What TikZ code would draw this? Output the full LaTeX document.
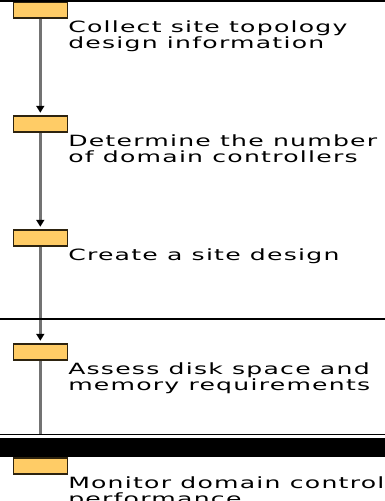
\documentclass[tikz,border=0pt]{standalone}
\usepackage{fontspec}
\newfontfamily\stepfont[FakeStretch=1.62,LetterSpace=8]{DejaVu Sans}
\definecolor{boxfill}{RGB}{255,204,102}
\definecolor{boxedge}{RGB}{45,35,15}
\definecolor{flowgray}{RGB}{115,115,115}
\usetikzlibrary{positioning,arrows.meta}

\begin{document}
\begin{tikzpicture}[x=1pt,y=-1pt,
    stepbox/.style={draw=boxedge, line width=1.5pt, fill=boxfill,
        minimum width=54pt, minimum height=16pt, inner sep=0pt},
    steptext/.style={anchor=north west, align=left, inner sep=0pt,
        font=\stepfont\fontsize{15.5}{16}\selectfont},
    flow/.style={draw=flowgray, line width=2.5pt},
    flowarrow/.style={flow, -{Triangle[color=black,width=8pt,length=7pt]},
        shorten >=2.5pt},
    node distance=96.5pt]
    \useasboundingbox (0,0) rectangle (385,501);
    \clip (0,0) rectangle (385,501);

    % Step boxes
    \node[stepbox] (b1) at (40.3,10) {};
    \node[stepbox, below=of b1] (b2) {};
    \node[stepbox, below=of b2] (b3) {};
    \node[stepbox, below=of b3] (b4) {};
    \node[stepbox, below=of b4] (b5) {};

    % Step labels
    \node[steptext] (t1) at ([yshift=-1.6pt]b1.south east)
        {Collect site topology\\design information};
    \node[steptext] (t2) at ([yshift=-1.6pt]b2.south east)
        {Determine the number\\of domain controllers};
    \node[steptext] (t3) at ([yshift=-1.6pt]b3.south east)
        {Create a site design};
    \node[steptext] (t4) at ([yshift=-1.6pt]b4.south east)
        {Assess disk space and\\memory requirements};
    \node[steptext] (t5) at ([yshift=-1.6pt]b5.south east)
        {Monitor domain controller\\performance};

    % Flow
    \draw[flowarrow] (b1) -- (b2);
    \draw[flowarrow] (b2) -- (b3);
    \draw[flowarrow] (b3) -- (b4);
    \coordinate (cut) at (40.3,434.5);
    \draw[flow] (b4) -- (cut);

    % Page rules
    \draw[line width=2pt] (0,0.5) -- (385,0.5);
    \draw[line width=1.5pt] (0,319) -- (385,319);
    \draw[line width=1pt] (0,434.5) -- (385,434.5);
    \fill (0,438) rectangle (385,457);
\end{tikzpicture}
\end{document}
